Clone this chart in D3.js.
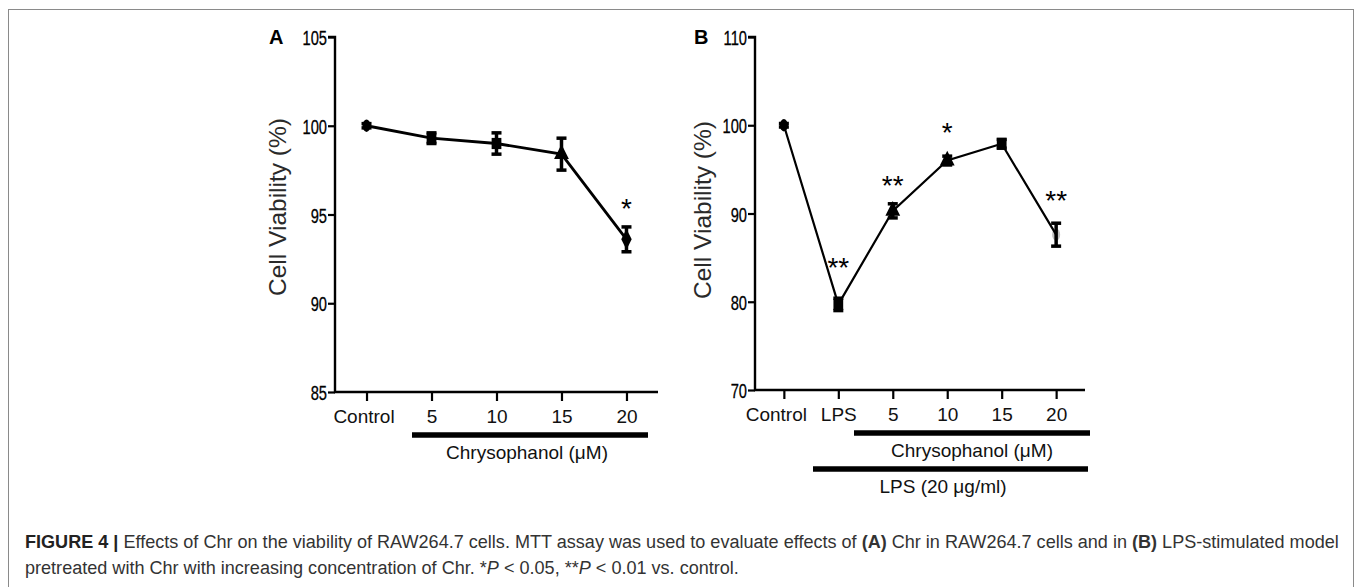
<!DOCTYPE html>
<html><head><meta charset="utf-8">
<script src="https://cdn.jsdelivr.net/npm/d3@7"></script>
<style>
body{margin:0;background:#fff;}
svg{display:block;font-family:"Liberation Sans",Arial,sans-serif;}
</style></head><body>
<svg id="c" width="1357" height="587"></svg>
<script>
// ---- data ----
const catsA = ["Control","5","10","15","20"];
const valsA = [100, 99.3, 99.0, 98.4, 93.6];
const errA  = [0.12, 0.3, 0.6, 0.9, 0.7];
const shapesA = ["circle","square","square","triangle","diamond"];
const starsA = ["","","","","*"];
const starPosA = [null,null,null,null,95.6];
const ticksA = [85, 90, 95, 100, 105];

const catsB = ["Control","LPS","5","10","15","20"];
const valsB = [100, 79.7, 90.3, 96.0, 97.9, 87.6];
const errB  = [0.2, 0.7, 0.8, 0.5, 0.5, 1.3];
const shapesB = ["circle","square","triangle","triangle","square","circle"];
const starsB = ["","**","**","*","","**"];
const starPosB = [null,84.4,93.8,99.7,null,92.1];
const ticksB = [70, 80, 90, 100, 110];

const svg = d3.select("#c");
// frame
svg.append("rect").attr("x",8.5).attr("y",9.5).attr("width",1345).attr("height",600)
  .attr("fill","none").attr("stroke","#8a8a8a").attr("stroke-width",1);

function panel(o){
  const g = svg.append("g");
  const y = d3.scaleLinear().domain(o.domain).range([o.y0, o.y1]);
  const x = d3.scalePoint().domain(o.cats).range([o.x0, o.x1]).padding(o.pad);
  // y axis
  const ya = g.append("g").attr("transform",`translate(${o.x0},0)`)
    .call(d3.axisLeft(y).tickValues(o.ticks).tickSize(7).tickPadding(1).tickFormat(d3.format("d")));
  ya.select(".domain").attr("stroke","#000").attr("stroke-width",2.4).attr("d",`M0,${o.y0+1}V${o.y1}H-7`);
  ya.selectAll(".tick line").attr("stroke","#000").attr("stroke-width",2.2);
  ya.selectAll(".tick text").attr("x",0).attr("dy","0.36em")
    .attr("transform","translate(-8,0) scale(0.7,1)")
    .attr("font-size",21).attr("fill","#000").attr("stroke","#000").attr("stroke-width",0.3);
  // x axis
  const xa = g.append("g").attr("transform",`translate(0,${o.y0})`)
    .call(d3.axisBottom(x).tickSize(9).tickPadding(9));
  xa.select(".domain").attr("stroke","#000").attr("stroke-width",2.4).attr("d",`M${o.x0-1},0H${o.x1}`);
  xa.selectAll(".tick line").attr("stroke","#000").attr("stroke-width",2.2);
  xa.selectAll(".tick text").attr("font-size",19).attr("fill","#111")
    .attr("dx", d => (d===o.cats[0] ? o.firstDx : 0));
  // y title
  g.append("text").attr("transform",`translate(${o.tx},${o.ty}) rotate(-90)`)
    .attr("text-anchor","middle").attr("dominant-baseline","middle")
    .attr("font-size",24.5).attr("fill","#2a2a2a").text("Cell Viability (%)");
  // panel letter
  g.append("text").attr("x",o.lx).attr("y",44).attr("font-size",20).attr("font-weight","bold").text(o.letter);
  // line
  const pts = o.cats.map((c,i)=>({c, v:o.vals[i], e:o.errs[i], s:o.shapes[i], st:o.stars[i], sp:o.starPos[i]}));
  g.append("path").datum(pts).attr("fill","none").attr("stroke","#000").attr("stroke-width",o.lw)
    .attr("d", d3.line().x(d=>x(d.c)).y(d=>y(d.v)));
  // error bars
  pts.forEach(d=>{
    const cx = x(d.c), top = y(d.v+d.e), bot = y(d.v-d.e);
    g.append("line").attr("x1",cx).attr("x2",cx).attr("y1",top).attr("y2",bot).attr("stroke","#000").attr("stroke-width",3.5);
    [top,bot].forEach(yy=>g.append("line").attr("x1",cx-5).attr("x2",cx+5).attr("y1",yy).attr("y2",yy)
      .attr("stroke","#000").attr("stroke-width",3.5));
  });
  // markers
  const sym = {circle:d3.symbolCircle, square:d3.symbolSquare, triangle:d3.symbolTriangle, diamond:d3.symbolDiamond};
  pts.forEach((d,i)=>{
    const gray = (o.letter==="B" && i===o.cats.length-1);
    const m = g.append("path").attr("d", d3.symbol().type(sym[d.s]).size(d.s==="circle"?70:95)())
      .attr("transform",`translate(${x(d.c)},${y(d.v)})${d.s==="circle"?" scale(0.85,1.3)":" scale(1,1.15)"}`)
      .attr("fill", gray?"#b5b5b5":"#000").attr("opacity", gray?0.85:1);
    if(gray) m.lower();
    if(d.st) g.append("text").attr("x",x(d.c)).attr("y",y(d.sp)).attr("dy","0.52em").attr("text-anchor","middle")
      .attr("font-size",28).attr("fill","#000").text(d.st);
  });
  // group bars
  o.bars.forEach(b=>{
    g.append("line").attr("x1",b.a).attr("x2",b.b).attr("y1",b.y).attr("y2",b.y).attr("stroke","#000").attr("stroke-width",5.5);
    g.append("text").attr("x",b.tx).attr("y",b.y+24).attr("text-anchor","middle").attr("font-size",19).attr("fill","#111").text(b.label);
  });
  return {x,y,g};
}

panel({letter:"A", cats:catsA, vals:valsA, errs:errA, shapes:shapesA, stars:starsA, starPos:starPosA, ticks:ticksA,
  domain:[85,105], y0:392, y1:37, x0:335, x1:658, pad:0.485, tx:280, ty:207, lx:269, lw:2.8, firstDx:-3,
  bars:[{a:412,b:648,y:435,tx:527,label:"Chrysophanol (μM)"}]});
panel({letter:"B", cats:catsB, vals:valsB, errs:errB, shapes:shapesB, stars:starsB, starPos:starPosB, ticks:ticksB,
  domain:[70,110], y0:390, y1:37, x0:755, x1:1085, pad:0.53, tx:705, ty:210, lx:694, lw:2.2, firstDx:-8,
  bars:[{a:854,b:1090,y:433,tx:972,label:"Chrysophanol (μM)"},{a:813,b:1088,y:469,tx:943,label:"LPS (20 μg/ml)"}]});

// caption
const cap = svg.append("g").attr("font-size",15).attr("fill","#333");
const l1 = cap.append("text").attr("x",25).attr("y",548);
l1.append("tspan").attr("font-weight","bold").attr("fill","#222").text("FIGURE 4 | ");
l1.append("tspan").text("Effects of Chr on the viability of RAW264.7 cells. MTT assay was used to evaluate effects of ");
l1.append("tspan").attr("font-weight","bold").text("(A)");
l1.append("tspan").text(" Chr in RAW264.7 cells and in ");
l1.append("tspan").attr("font-weight","bold").text("(B)");
l1.append("tspan").text(" LPS-stimulated model");
const l2 = cap.append("text").attr("x",25).attr("y",574);
l2.append("tspan").text("pretreated with Chr with increasing concentration of Chr. *");
l2.append("tspan").attr("font-style","italic").text("P");
l2.append("tspan").text(" < 0.05, **");
l2.append("tspan").attr("font-style","italic").text("P");
l2.append("tspan").text(" < 0.01 vs. control.");
// fit line 1 width to reference span
const w = l1.node().getComputedTextLength();
cap.attr("font-size",15*1315/w);
</script></body></html>
